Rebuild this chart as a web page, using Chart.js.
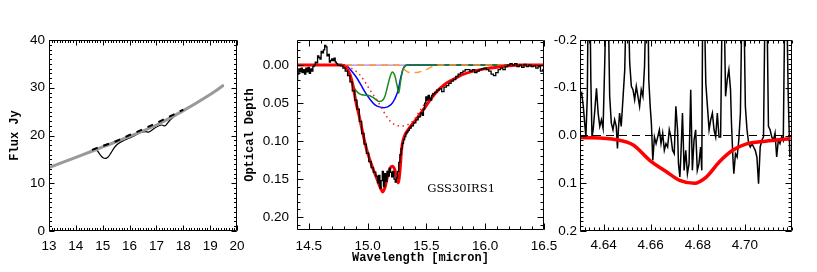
<!DOCTYPE html>
<html>
<head>
<meta charset="utf-8">
<script src="https://cdn.jsdelivr.net/npm/chart.js@4/dist/chart.umd.min.js"></script>
<style>
  body { margin: 0; background: #fff; }
  #wrap { position: relative; width: 817px; height: 272px; }
  #wrap canvas { position: absolute; left: 0; top: 0; }
</style>
</head>
<body>
<div id="wrap">
  <canvas id="flux" width="817" height="272"></canvas>
  <canvas id="tau15" width="817" height="272"></canvas>
  <canvas id="tauCO" width="817" height="272"></canvas>
</div>
<script>
// ---- left panel: flux spectrum (Jy) ----
const fluxWave = [13.0, 13.5, 14.0, 14.5, 14.7, 14.8, 14.9, 15.0, 15.1, 15.2, 15.3, 15.4, 15.5, 15.6, 15.8,
  16.0, 16.2, 16.4, 16.6, 16.7, 16.8, 17.0, 17.2, 17.3, 17.5, 17.7, 18.0, 18.5, 19.0, 19.5];
const fluxJy = [13.3, 14.3, 15.4, 16.5, 17.1, 16.8, 16.0, 15.4, 15.2, 15.5, 16.3, 17.2, 17.9, 18.4, 19.0,
  19.5, 20.0, 20.6, 20.8, 20.7, 21.0, 21.8, 22.2, 22.0, 23.2, 24.2, 25.2, 26.8, 28.6, 30.6];
const contWave = [13.0, 14.0, 15.0, 16.0, 17.0, 18.0, 19.0, 19.5];
const contJy = [13.3, 15.4, 17.6, 19.8, 22.2, 25.2, 28.6, 30.5];
const localWave = [14.6, 15.0, 15.5, 16.0, 16.5, 17.0, 17.5, 18.0];
const localJy = [17.0, 17.8, 18.8, 20.1, 21.3, 22.6, 24.0, 25.4];
const fluxXTicks = [13, 14, 15, 16, 17, 18, 19, 20];
const fluxYTicks = [0, 10, 20, 30, 40];

// ---- middle panel: 15 micron optical depth ----
const obsWave = [14.40, 14.41, 14.42, 14.43, 14.44, 14.45, 14.46, 14.47, 14.48, 14.49, 14.50, 14.51, 14.52, 14.53,
  14.54, 14.55, 14.56, 14.57, 14.58, 14.59, 14.60, 14.61, 14.62, 14.63, 14.64, 14.65, 14.66, 14.67, 14.68, 14.69,
  14.70, 14.71, 14.72, 14.73, 14.74, 14.75, 14.76, 14.78, 14.80, 14.82, 14.84, 14.86, 14.88, 14.90, 14.92, 14.94,
  14.96, 14.98, 15.00, 15.02, 15.04, 15.06, 15.08, 15.09, 15.10, 15.11, 15.12, 15.13, 15.14, 15.15, 15.16, 15.17,
  15.18, 15.19, 15.20, 15.21, 15.22, 15.23, 15.24, 15.25, 15.26, 15.27, 15.28, 15.29, 15.30, 15.31, 15.32, 15.33,
  15.34, 15.35, 15.36, 15.38, 15.40, 15.42, 15.44, 15.46, 15.47, 15.48, 15.49, 15.50, 15.51, 15.52, 15.53, 15.54,
  15.55, 15.56, 15.58, 15.60, 15.62, 15.64, 15.66, 15.68, 15.70, 15.72, 15.74, 15.76, 15.78, 15.80, 15.82, 15.84,
  15.86, 15.88, 15.90, 15.92, 15.94, 15.96, 15.98, 16.00, 16.02, 16.04, 16.06, 16.08, 16.10, 16.12, 16.14, 16.16,
  16.18, 16.20, 16.22, 16.24, 16.26, 16.28, 16.30, 16.32, 16.34, 16.36, 16.38, 16.40, 16.42, 16.44, 16.46, 16.48, 16.50];
const obsTau = [0.020, 0.012, 0.005, 0.009, 0.004, 0.010, 0.006, 0.012, 0.004, 0.009, 0.003, 0.011, 0.005, 0.008,
  0.002, 0.000, -0.004, -0.003, -0.012, -0.010, -0.008, -0.018, -0.016, -0.020, -0.026, -0.024, -0.012, -0.014, -0.004, -0.006,
  -0.008, -0.006, -0.009, -0.004, -0.002, 0.000, 0.000, 0.001, 0.004, 0.008, 0.014, 0.022, 0.034, 0.046, 0.058, 0.074,
  0.090, 0.104, 0.116, 0.127, 0.135, 0.141, 0.146, 0.155, 0.145, 0.162, 0.152, 0.140, 0.160, 0.143, 0.153, 0.140,
  0.146, 0.136, 0.141, 0.147, 0.140, 0.150, 0.154, 0.148, 0.140, 0.128, 0.118, 0.110, 0.103, 0.098, 0.094, 0.090,
  0.088, 0.086, 0.083, 0.080, 0.076, 0.072, 0.068, 0.063, 0.066, 0.058, 0.050, 0.042, 0.046, 0.040, 0.044, 0.046,
  0.040, 0.038, 0.036, 0.033, 0.031, 0.035, 0.029, 0.027, 0.024, 0.021, 0.019, 0.015, 0.012, 0.010, 0.008, 0.006,
  0.006, 0.008, 0.006, 0.010, 0.008, 0.006, 0.005, 0.004, 0.006, 0.008, 0.012, 0.014, 0.010, 0.006, 0.004, 0.006,
  0.002, 0.000, -0.002, 0.000, -0.002, 0.002, 0.000, 0.003, -0.001, 0.002, 0.000, 0.002, 0.001, 0.004, 0.002, 0.008, 0.006];

const totalWave = [14.40, 14.78, 14.82, 14.85, 14.88, 14.90, 14.93, 14.96, 14.99, 15.02, 15.05, 15.08, 15.11, 15.13,
  15.15, 15.17, 15.19, 15.21, 15.23, 15.245, 15.26, 15.275, 15.29, 15.30, 15.32, 15.35, 15.40, 15.45, 15.50, 15.55,
  15.60, 15.65, 15.70, 15.75, 15.80, 15.90, 16.00, 16.10, 16.20, 16.30, 16.50];
const totalTau = [0, 0, 0.004, 0.012, 0.030, 0.048, 0.068, 0.090, 0.110, 0.125, 0.138, 0.150, 0.162, 0.167,
  0.160, 0.146, 0.136, 0.133, 0.137, 0.146, 0.155, 0.140, 0.110, 0.100, 0.091, 0.084, 0.074, 0.064, 0.053, 0.042,
  0.033, 0.026, 0.021, 0.017, 0.013, 0.008, 0.005, 0.003, 0.001, 0, 0];

const dotWave = [14.40, 14.80, 14.85, 14.90, 14.93, 14.96, 14.99, 15.03, 15.08, 15.12, 15.16, 15.20, 15.24, 15.27,
  15.30, 15.33, 15.36, 15.39, 15.42, 15.45, 15.48, 15.51, 15.55, 15.60, 15.70, 15.80, 15.90, 16.00, 16.20, 16.50];
const dotTau = [0, 0, 0.003, 0.008, 0.012, 0.018, 0.025, 0.035, 0.046, 0.057, 0.067, 0.075, 0.079, 0.080,
  0.080, 0.079, 0.077, 0.073, 0.066, 0.059, 0.052, 0.045, 0.038, 0.032, 0.022, 0.013, 0.008, 0.004, 0.001, 0];

const blueWave = [14.40, 14.80, 14.83, 14.86, 14.90, 14.94, 14.98, 15.02, 15.06, 15.10, 15.14, 15.17, 15.20, 15.23,
  15.26, 15.28, 15.30, 15.32, 15.34, 16.50];
const blueTau = [0, 0, 0.002, 0.007, 0.015, 0.025, 0.036, 0.045, 0.052, 0.055, 0.056, 0.055, 0.052, 0.045,
  0.033, 0.018, 0.006, 0.001, 0, 0];

const greenWave = [14.40, 14.80, 14.82, 14.85, 14.89, 14.95, 15.01, 15.05, 15.10, 15.13, 15.15, 15.17, 15.19, 15.21,
  15.23, 15.25, 15.265, 15.28, 15.30, 15.32, 15.34, 16.50];
const greenTau = [0, 0, 0.004, 0.015, 0.031, 0.039, 0.040, 0.043, 0.048, 0.046, 0.040, 0.028, 0.016, 0.009,
  0.013, 0.026, 0.037, 0.022, 0.006, 0.001, 0, 0];

const orangeWave = [14.40, 15.26, 15.30, 15.34, 15.38, 15.44, 15.50, 15.55, 15.60, 16.50];
const orangeTau = [0, 0, 0.004, 0.009, 0.010, 0.009, 0.006, 0.002, 0, 0];

const zeroWave = [14.40, 16.50];
const zeroTau = [0, 0];
const odXTicks = [14.5, 15.0, 15.5, 16.0, 16.5];
const odYTicks = [0.00, 0.05, 0.10, 0.15, 0.20];

// ---- right panel: CO 4.67 micron ----
const coWave = [4.6300, 4.6307, 4.6314, 4.6321, 4.6325, 4.6331, 4.6335, 4.6342, 4.6346, 4.6351, 4.6356, 4.6363,
  4.6370, 4.6377, 4.6384, 4.6391, 4.6398, 4.6405, 4.6412, 4.6419, 4.6426, 4.6433, 4.6440, 4.6447, 4.6454, 4.6459,
  4.6463, 4.6468, 4.6475, 4.6483, 4.6490, 4.6497, 4.6504, 4.6511, 4.6518, 4.6525, 4.6532, 4.6539, 4.6546, 4.6553,
  4.6560, 4.6567, 4.6574, 4.6581, 4.6588, 4.6592, 4.6598, 4.6603, 4.6609, 4.6616, 4.6623, 4.6630, 4.6637, 4.6644,
  4.6651, 4.6658, 4.6665, 4.6672, 4.6679, 4.6686, 4.6693, 4.6700, 4.6707, 4.6714, 4.6718, 4.6724, 4.6728, 4.6735,
  4.6742, 4.6749, 4.6756, 4.6763, 4.6770, 4.6777, 4.6784, 4.6791, 4.6798, 4.6805, 4.6812, 4.6817, 4.6821, 4.6827,
  4.6834, 4.6841, 4.6848, 4.6855, 4.6862, 4.6869, 4.6876, 4.6883, 4.6890, 4.6897, 4.6904, 4.6911, 4.6918, 4.6925,
  4.6932, 4.6939, 4.6943, 4.6949, 4.6953, 4.6960, 4.6967, 4.6974, 4.6981, 4.6988, 4.6995, 4.7002, 4.7009, 4.7016,
  4.7023, 4.7030, 4.7037, 4.7044, 4.7051, 4.7058, 4.7065, 4.7072, 4.7079, 4.7086, 4.7093, 4.7100, 4.7107, 4.7114,
  4.7121, 4.7128, 4.7135, 4.7142, 4.7149, 4.7156, 4.7163, 4.7170, 4.7177, 4.7184, 4.7191];
const coTau = [-0.082, -0.089, -0.061, -0.019, 0.003, -0.082, -0.30, -0.30, -0.117, 0.003, -0.012, -0.054,
  -0.099, -0.047, -0.019, -0.033, -0.015, -0.152, -0.30, -0.30, -0.082, -0.026, -0.012, -0.033, -0.019, 0.027,
  -0.012, -0.047, -0.019, -0.082, -0.138, -0.30, -0.30, -0.152, -0.103, -0.096, -0.075, -0.103, -0.082, -0.061,
  -0.096, -0.082, -0.145, -0.30, -0.30, -0.117, -0.061, -0.026, 0.052, 0.003, 0.017, 0.003, -0.012, 0.017,
  -0.005, 0.031, 0.017, 0.024, -0.012, 0.003, 0.031, 0.038, -0.061, -0.012, 0.059, 0.087, 0.045, -0.047,
  0.073, 0.031, 0.080, 0.059, -0.096, 0.073, 0.010, -0.012, 0.073, 0.059, 0.024, 0.073, -0.30, -0.30,
  -0.110, -0.061, -0.012, -0.033, -0.047, -0.012, 0.003, -0.047, 0.003, 0.003, -0.30, -0.30, -0.082, -0.117,
  -0.138, -0.096, -0.026, 0.045, 0.080, 0.038, 0.045, 0.010, -0.047, -0.30, -0.30, -0.061, -0.012, 0.017,
  0.024, 0.017, 0.024, 0.031, 0.045, 0.101, 0.024, 0.010, 0.003, -0.30, -0.30, -0.019, -0.012, 0.003,
  0.010, -0.005, 0.045, 0.010, 0.017, 0.003, 0.010, -0.30, -0.30, -0.082, 0.045];
const coFitWave = [4.6300, 4.6455, 4.6526, 4.6596, 4.6667, 4.6723, 4.6786, 4.6836, 4.6892, 4.6948, 4.7004, 4.7088, 4.7194];
const coFitTau = [0.004, 0.009, 0.020, 0.052, 0.076, 0.094, 0.100, 0.087, 0.055, 0.031, 0.018, 0.012, 0.007];
const coZeroWave = [4.63, 4.72];
const coZeroTau = [0, 0];
const coXTicks = [4.64, 4.66, 4.68, 4.70];
const coYTicks = [-0.2, -0.1, 0.0, 0.1, 0.2];

const pts = (xs, ys) => xs.map((x, i) => ({ x, y: ys[i] }));
const tickFont = { family: '"Liberation Sans", Arial, sans-serif', size: 13.5 };
const titleFont = { family: '"Liberation Mono", monospace', size: 12, weight: 'bold' };

// IDL-style frame: box on all four sides with inward major and minor ticks
const idlBox = {
  id: 'idlBox',
  afterDraw(chart, args, o) {
    const { ctx, chartArea: a, scales: { x, y } } = chart;
    const L = Math.round(a.left) + 0.5, R = Math.round(a.right) - 0.5;
    const T = Math.round(a.top) + 0.5, B = Math.round(a.bottom) - 0.5;
    ctx.save();
    ctx.strokeStyle = '#000';
    ctx.lineWidth = 1;
    ctx.beginPath();
    ctx.rect(L, T, R - L, B - T);
    const each = (s, step, fn) => {
      for (let i = Math.ceil(s.min / step - 1e-6); i * step <= s.max + 1e-9; i++) fn(i * step);
    };
    const xt = (v, len) => {
      const px = Math.round(x.getPixelForValue(v)) + 0.5;
      ctx.moveTo(px, B); ctx.lineTo(px, B - len);
      ctx.moveTo(px, T); ctx.lineTo(px, T + len);
    };
    const yt = (v, len) => {
      const py = Math.round(y.getPixelForValue(v)) + 0.5;
      ctx.moveTo(L, py); ctx.lineTo(L + len, py);
      ctx.moveTo(R, py); ctx.lineTo(R - len, py);
    };
    each(x, o.xMinor, v => xt(v, o.minor));
    each(y, o.yMinor, v => yt(v, o.minor));
    x.ticks.forEach(t => xt(t.value, o.major));
    y.ticks.forEach(t => yt(t.value, o.major));
    ctx.stroke();
    if (o.note) {
      ctx.fillStyle = '#000';
      ctx.font = o.note.font;
      ctx.textAlign = 'center';
      ctx.textBaseline = 'middle';
      ctx.fillText(o.note.text, x.getPixelForValue(o.note.x), y.getPixelForValue(o.note.y));
    }
    ctx.restore();
  }
};
Chart.register(idlBox);

function axis(o) {
  return {
    type: 'linear',
    min: o.min,
    max: o.max,
    reverse: !!o.reverse,
    grid: { display: false, drawTicks: false },
    border: { display: false },
    ticks: {
      color: '#000', font: tickFont, padding: o.pad, autoSkip: false, maxRotation: 0,
      callback: o.fmt
    },
    afterBuildTicks: s => { s.ticks = o.ticks.map(v => ({ value: v })); },
    afterFit: s => {
      if (o.width) s.width = o.width;
      if (o.height) s.height = o.height;
    },
    title: o.title
      ? { display: true, text: o.title, color: '#000', font: titleFont, padding: o.titlePad }
      : { display: false }
  };
}

function line(data, color, width, extra) {
  return Object.assign({
    data, borderColor: color, borderWidth: width, pointRadius: 0, fill: false, tension: 0
  }, extra || {});
}

function base(padding, box, scales) {
  return {
    responsive: false,
    animation: false,
    events: [],
    layout: { padding },
    plugins: { legend: { display: false }, tooltip: { enabled: false }, idlBox: box },
    scales
  };
}

new Chart(document.getElementById('flux'), {
  type: 'line',
  data: {
    datasets: [
      line(pts(localWave, localJy), '#000', 2, { borderDash: [6, 6], order: 0 }),
      line(pts(contWave, contJy), '#999999', 3, { cubicInterpolationMode: 'monotone', order: 1 }),
      line(pts(fluxWave, fluxJy), '#000', 1.2, { cubicInterpolationMode: 'monotone', order: 2 })
    ]
  },
  options: base({ left: 0, top: 40, right: 580, bottom: 0 },
    { xMinor: 0.1, yMinor: 1, major: 5, minor: 2.5 },
    {
      x: axis({ min: 13, max: 20, ticks: fluxXTicks, fmt: v => String(v), pad: 7, height: 41 }),
      y: axis({ min: 0, max: 40, ticks: fluxYTicks, fmt: v => String(v), pad: 4, width: 49,
        title: 'Flux Jy', titlePad: { top: 8, bottom: 0 } })
    })
});

new Chart(document.getElementById('tau15'), {
  type: 'line',
  data: {
    datasets: [
      line(pts(obsWave, obsTau), '#000', 1.3, { stepped: 'middle', order: 0 }),
      line(pts(totalWave, totalTau), '#ff0000', 3, { cubicInterpolationMode: 'monotone', order: 1 }),
      line(pts(dotWave, dotTau), '#ff2020', 1.5, { borderDash: [1.5, 3.5], cubicInterpolationMode: 'monotone', order: 2 }),
      line(pts(orangeWave, orangeTau), '#ff9933', 1.5, { borderDash: [7, 5], cubicInterpolationMode: 'monotone', order: 3 }),
      line(pts(greenWave, greenTau), '#1a8a1a', 1.5, { cubicInterpolationMode: 'monotone', order: 4 }),
      line(pts(blueWave, blueTau), '#0000ff', 1.5, { cubicInterpolationMode: 'monotone', order: 5 }),
      line(pts(zeroWave, zeroTau), '#9a66d0', 1, { order: 6 })
    ]
  },
  options: base({ left: 240, top: 40, right: 273, bottom: 0 },
    { xMinor: 0.1, yMinor: 0.01, major: 6, minor: 3,
      note: { text: 'GSS30IRS1', x: 15.795, y: 0.163, font: '11.5px "DejaVu Serif", serif' } },
    {
      x: axis({ min: 14.4, max: 16.5, ticks: odXTicks, fmt: v => v.toFixed(1), pad: 8, height: 42,
        title: 'Wavelength [micron]', titlePad: { top: 0, bottom: 7 } }),
      y: axis({ min: -0.033, max: 0.217, reverse: true, ticks: odYTicks, fmt: v => v.toFixed(2), pad: 8, width: 57,
        title: 'Optical Depth', titlePad: { top: 3, bottom: 0 } })
    })
});

new Chart(document.getElementById('tauCO'), {
  type: 'line',
  data: {
    datasets: [
      line(pts(coWave, coTau), '#000', 1.5, { order: 1 }),
      line(pts(coFitWave, coFitTau), '#ff0000', 3.5, { cubicInterpolationMode: 'monotone', order: 0 }),
      line(pts(coZeroWave, coZeroTau), '#000', 1.2, { borderDash: [8, 5], order: 2 })
    ]
  },
  options: base({ left: 540, top: 40, right: 25, bottom: 0 },
    { xMinor: 0.002, yMinor: 0.01, major: 6, minor: 3 },
    {
      x: axis({ min: 4.63, max: 4.72, ticks: coXTicks, fmt: v => v.toFixed(2), pad: 6, height: 41 }),
      y: axis({ min: -0.2, max: 0.2, reverse: true, ticks: coYTicks, fmt: v => v.toFixed(1), pad: 3, width: 40 })
    })
});
</script>
</body>
</html>
